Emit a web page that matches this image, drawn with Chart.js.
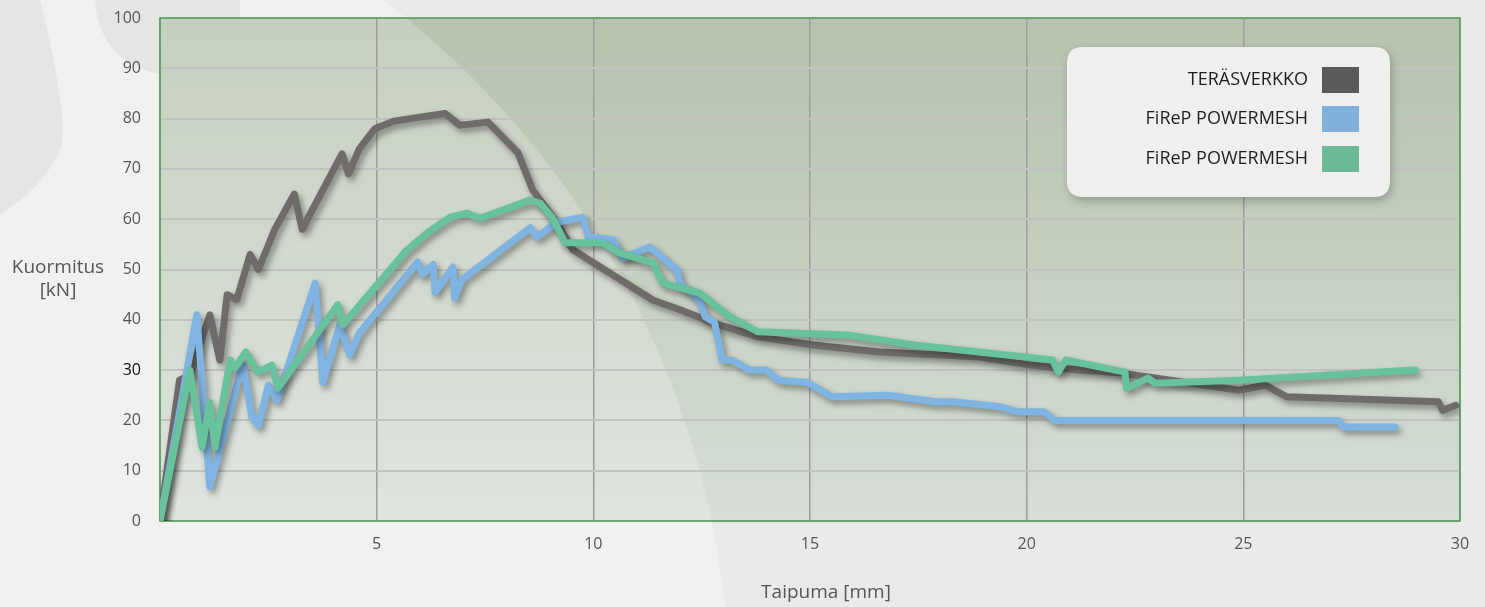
<!DOCTYPE html>
<html>
<head>
<meta charset="utf-8">
<script src="https://cdn.jsdelivr.net/npm/chart.js@4/dist/chart.umd.min.js"></script>
<style>
  html, body { margin: 0; padding: 0; background: #ececec; }
  #wrap { width: 1485px; height: 607px; }
</style>
</head>
<body>
<div id="wrap"><canvas id="chart" width="1485" height="607"></canvas></div>
<script>
'use strict';

// series names
var seriesNames = ['TERÄSVERKKO', 'FiReP POWERMESH', 'FiReP POWERMESH'];

// TERÄSVERKKO
var steelX = [0, 0.45, 0.7, 1.15, 1.38, 1.55, 1.77, 2.08, 2.27, 2.65, 3.1, 3.28, 4.2, 4.35, 4.6, 4.96, 5.4, 6.0, 6.58, 6.92, 7.57, 8.26, 8.6, 9.1, 9.53, 11.38, 12.0, 12.76, 13.8, 15.07, 16.6, 18.9, 20.08, 21.2, 22.2, 24.9, 25.5, 26.0, 29.5, 29.6, 29.9];
var steelY = [0, 28, 29, 41, 32, 45, 44, 53, 50, 58, 65, 58, 73, 69, 74, 78, 79.5, 80.3, 81, 78.7, 79.3, 73.2, 65.8, 60, 53.9, 43.9, 42, 39.4, 36.6, 35, 33.6, 32.6, 31, 30, 29.4, 26, 27, 24.7, 23.7, 22, 23];

// FiReP POWERMESH (blue)
var blueX = [0, 0.85, 1.15, 1.85, 1.92, 2.12, 2.27, 2.5, 2.7, 3.58, 3.76, 4.15, 4.38, 4.6, 5.95, 6.05, 6.3, 6.35, 6.76, 6.8, 6.97, 8.54, 8.7, 9.16, 9.76, 9.88, 10.45, 10.68, 11.3, 11.93, 12.0, 12.46, 12.58, 12.8, 12.97, 13.2, 13.6, 14.0, 14.27, 14.93, 15.5, 16.8, 17.9, 18.3, 19.4, 19.8, 20.4, 20.65, 27.2, 27.3, 28.5];
var blueY = [0, 41, 6.8, 29.4, 31, 20.7, 19, 27, 24, 47.3, 27.6, 39, 33, 37.4, 51.5, 49, 51, 45.5, 50.5, 44.3, 48, 58.3, 56.5, 59.4, 60.4, 56.5, 55.9, 52.3, 54.5, 49.9, 47.3, 43.9, 40.6, 39.4, 32, 32, 30, 30, 28, 27.6, 24.7, 25, 23.7, 23.7, 22.7, 21.7, 21.7, 20, 20, 18.7, 18.7];

// FiReP POWERMESH (green)
var greenX = [0, 0.69, 0.97, 1.15, 1.27, 1.62, 1.73, 1.98, 2.26, 2.58, 2.72, 4.1, 4.22, 5.7, 6.2, 6.7, 7.08, 7.38, 8.54, 8.77, 9.05, 9.35, 10.22, 10.6, 11.38, 11.6, 12.46, 13.15, 13.8, 15.85, 17.4, 20.6, 20.73, 20.9, 22.27, 22.3, 22.8, 22.96, 24.9, 28.96];
var greenY = [0, 30, 14.7, 23.5, 14.7, 32, 30.4, 33.6, 29.6, 31, 26.4, 43, 39, 53.9, 57.5, 60.4, 61.2, 60.2, 63.8, 63.2, 60.4, 55.3, 55.3, 53.3, 51.3, 47.3, 45.3, 40.6, 37.6, 37, 35, 32, 29.6, 32, 29.6, 26.4, 28.4, 27.4, 28, 30];

var lineColors = ['#6e6b6a', '#80b4e2', '#68c29c'];
var swatchColors = ['#5a5a5a', '#80b0dc', '#6bb995'];

function toPoints(xs, ys) {
  var pts = [];
  for (var i = 0; i < xs.length; i++) {
    pts.push({ x: xs[i], y: ys[i] });
  }
  return pts;
}

var FONT = '"Open Sans", "Noto Sans", sans-serif';

function roundRect(ctx, x, y, w, h, r) {
  ctx.beginPath();
  ctx.moveTo(x + r, y);
  ctx.lineTo(x + w - r, y);
  ctx.quadraticCurveTo(x + w, y, x + w, y + r);
  ctx.lineTo(x + w, y + h - r);
  ctx.quadraticCurveTo(x + w, y + h, x + w - r, y + h);
  ctx.lineTo(x + r, y + h);
  ctx.quadraticCurveTo(x, y + h, x, y + h - r);
  ctx.lineTo(x, y + r);
  ctx.quadraticCurveTo(x, y, x + r, y);
  ctx.closePath();
}

// background, plot panel, border, shadows, titles and legend box
var decor = {
  id: 'decor',
  beforeDraw: function(chart) {
    var ctx = chart.ctx;
    var a = chart.chartArea;
    ctx.save();
    ctx.fillStyle = '#eaeaea';
    ctx.fillRect(0, 0, chart.width, chart.height);
    // big light arc
    ctx.fillStyle = '#f1f1f1';
    ctx.beginPath();
    ctx.arc(-150, 700, 880, 0, Math.PI * 2);
    ctx.fill();
    // darker blobs top-left
    ctx.fillStyle = '#e5e5e5';
    ctx.beginPath();
    ctx.moveTo(95, 0);
    ctx.quadraticCurveTo(100, 75, 190, 78);
    ctx.lineTo(240, 78);
    ctx.lineTo(240, 0);
    ctx.closePath();
    ctx.fill();
    ctx.beginPath();
    ctx.moveTo(0, 0);
    ctx.lineTo(40, 0);
    ctx.quadraticCurveTo(70, 120, 60, 150);
    ctx.quadraticCurveTo(45, 185, 0, 215);
    ctx.closePath();
    ctx.fill();

    // plot panel
    var g = ctx.createLinearGradient(0, a.top, 0, a.bottom);
    g.addColorStop(0, '#b5c2ad');
    g.addColorStop(1, '#d6ded6');
    ctx.fillStyle = g;
    ctx.fillRect(a.left, a.top, a.right - a.left, a.bottom - a.top);
    ctx.beginPath();
    ctx.rect(a.left, a.top, a.right - a.left, a.bottom - a.top);
    ctx.clip();
    ctx.fillStyle = 'rgba(255,255,255,0.22)';
    ctx.beginPath();
    ctx.arc(-150, 700, 880, 0, Math.PI * 2);
    ctx.fill();
    ctx.restore();
  },
  beforeDatasetsDraw: function(chart) {
    var ctx = chart.ctx;
    var a = chart.chartArea;
    ctx.save();
    ctx.strokeStyle = '#4f9d57';
    ctx.lineWidth = 1.5;
    ctx.strokeRect(a.left, a.top, a.right - a.left, a.bottom - a.top);
    ctx.restore();
    ctx.save();
    ctx.shadowColor = 'rgba(0,0,0,0.38)';
    ctx.shadowBlur = 6;
    ctx.shadowOffsetX = 3;
    ctx.shadowOffsetY = 4;
  },
  afterDatasetsDraw: function(chart) {
    chart.ctx.restore();
  },
  afterDraw: function(chart) {
    var ctx = chart.ctx;
    ctx.save();
    // axis titles
    ctx.fillStyle = '#555';
    ctx.font = '19px ' + FONT;
    ctx.textAlign = 'center';
    ctx.textBaseline = 'middle';
    ctx.fillText('Kuormitus', 58, 268);
    ctx.fillText('[kN]', 58, 291);
    ctx.fillText('Taipuma [mm]', 826, 593);

    // legend box
    ctx.save();
    ctx.shadowColor = 'rgba(0,0,0,0.25)';
    ctx.shadowBlur = 10;
    ctx.shadowOffsetX = 2;
    ctx.shadowOffsetY = 4;
    ctx.fillStyle = 'rgba(242,243,241,0.97)';
    roundRect(ctx, 1067, 47, 323, 150, 16);
    ctx.fill();
    ctx.restore();

    ctx.font = '18px ' + FONT;
    ctx.textAlign = 'right';
    var rows = [80, 119, 159];
    for (var i = 0; i < seriesNames.length; i++) {
      ctx.fillStyle = '#1e1e1e';
      ctx.fillText(seriesNames[i], 1308, rows[i]);
      ctx.fillStyle = swatchColors[i];
      ctx.fillRect(1322, rows[i] - 13, 37, 26);
    }
    ctx.restore();
  }
};

var ctx = document.getElementById('chart').getContext('2d');

var chart = new Chart(ctx, {
  type: 'line',
  data: {
    datasets: [
      { label: seriesNames[0], data: toPoints(steelX, steelY), borderColor: lineColors[0], order: 3 },
      { label: seriesNames[1], data: toPoints(blueX, blueY), borderColor: lineColors[1], order: 2 },
      { label: seriesNames[2], data: toPoints(greenX, greenY), borderColor: lineColors[2], order: 1 }
    ]
  },
  options: {
    responsive: false,
    animation: false,
    layout: { padding: { top: 18, right: 25, left: 0, bottom: 0 } },
    elements: {
      line: { borderWidth: 7, tension: 0, borderJoinStyle: 'round', borderCapStyle: 'round', fill: false },
      point: { radius: 0, hoverRadius: 0 }
    },
    plugins: {
      legend: { display: false },
      tooltip: { enabled: false }
    },
    scales: {
      x: {
        type: 'linear',
        min: 0,
        max: 30,
        afterFit: function(scale) { scale.height = 86; },
        grid: { color: '#9e9e9e', lineWidth: 1.5, drawTicks: false },
        border: { display: false },
        ticks: {
          stepSize: 5,
          padding: 14,
          color: '#555',
          font: { family: FONT, size: 16 },
          callback: function(v) { return v === 0 ? '' : v; }
        }
      },
      y: {
        min: 0,
        max: 100,
        afterFit: function(scale) {
          scale.width = 160;
          scale.paddingTop = 10;
          scale.paddingBottom = 10;
        },
        grid: { color: '#c2c2c2', lineWidth: 2, drawTicks: false },
        border: { display: false },
        ticks: {
          stepSize: 10,
          padding: 19,
          font: { family: FONT, size: 16 },
          color: function(c) { return c.tick && c.tick.value === 30 ? '#111' : '#555'; }
        }
      }
    }
  },
  plugins: [decor]
});
</script>
</body>
</html>
